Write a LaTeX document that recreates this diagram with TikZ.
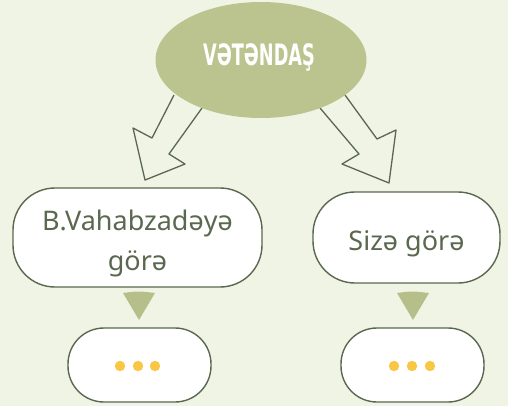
\documentclass[tikz,border=0pt]{standalone}
\usepackage{fontspec}
\setmainfont{Noto Sans}
\newfontfamily\headfont{DejaVu Sans}
\usetikzlibrary{shapes.geometric}
\definecolor{bg}{HTML}{F0F4E5}
\definecolor{olive}{HTML}{BBC48F}
\definecolor{tri}{HTML}{B6BF8A}
\definecolor{dk}{HTML}{59684F}
\definecolor{dot}{HTML}{F8C844}
\tikzset{
  pill/.style={draw=dk, line width=1.4pt, fill=white, rounded corners=#1},
  hollowarrow/.style={draw=dk, line width=1.3pt, line join=round, fill=none},
  boxtext/.style={text=dk, font=\fontsize{27}{40}\selectfont, align=center},
  yd/.style={fill=dot, draw=none},
  tr/.style={fill=tri, draw=none}
}
\begin{document}
\begin{tikzpicture}[x=1pt,y=-1pt]
\fill[bg] (0,0) rectangle (508,406);
\useasboundingbox (0,0) rectangle (508,406);
% arrows
\draw[hollowarrow] (174,95) -- (152,138) -- (133,128) -- (145,180) -- (185,164) -- (169,154) -- (202,108);
\draw[hollowarrow] (345,95) -- (377,139) -- (396,130) -- (389,183) -- (342,164) -- (359,154) -- (320,108);
% ellipse
\node[ellipse, fill=olive, minimum width=211pt, minimum height=116pt, inner sep=0] (top) at (261,60) {};
\node[anchor=base, text=white, inner sep=0] (toptext) at (259,66) {\scalebox{0.6}[1]{\headfont\bfseries\fontsize{29.5}{32}\selectfont VƏTƏNDAŞ}};
% boxes
\draw[pill=42pt] (13,188) rectangle (262,287);
\node[boxtext, anchor=base] (lt) at (137.5,230) {B.Vahabzadəyə};
\node[boxtext, anchor=base] (lt2) at (137.5,270) {görə};
\draw[pill=42pt] (313,192) rectangle (500,283);
\node[boxtext, anchor=base] (rt) at (406.5,250) {Sizə görə};
% triangles
\fill[tr] (123,293) .. controls (138,291) .. (155,293) -- (139,320) -- cycle;
\fill[tr] (397,293) .. controls (412,291) .. (429,293) -- (413,320) -- cycle;
% small boxes
\draw[pill=36pt] (68,328) rectangle (211,402);
\draw[pill=36pt] (341,328) rectangle (484,402);
\foreach \x in {120,138,155} \fill[yd] (\x,366) circle (5.2pt);
\foreach \x in {394,412,430} \fill[yd] (\x,366) circle (5.2pt);
\end{tikzpicture}
\end{document}
